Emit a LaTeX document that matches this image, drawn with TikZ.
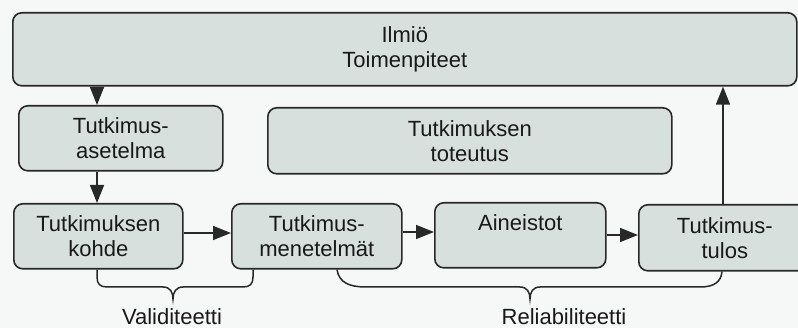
\documentclass[tikz,border=0pt]{standalone}
\usepackage{fontspec}
\setmainfont{Liberation Sans}
\usetikzlibrary{arrows.meta,calc}
\definecolor{boxfill}{RGB}{215,224,220}
\definecolor{boxline}{RGB}{40,40,40}
\definecolor{bgc}{RGB}{246,247,247}
\definecolor{txt}{RGB}{25,25,25}
\tikzset{
  box/.style={draw=boxline, fill=boxfill, line width=1.6pt, rounded corners=9pt,
    inner sep=0pt, anchor=north west, align=center, text=txt,
    font=\fontsize{22}{25}\selectfont},
  conn/.style={draw=boxline, line width=1.5pt, -{Triangle[length=18pt,width=14pt]}},
  bracepath/.style={draw=boxline, line width=1.5pt},
  lbl/.style={text=txt, font=\fontsize{22}{25}\selectfont, inner sep=0pt}
}
\begin{document}
\begin{tikzpicture}[x=1pt,y=-1pt]
\useasboundingbox (0,0) rectangle (798,328);
\fill[bgc] (0,0) rectangle (798,328);
\node[box, minimum width=784pt, minimum height=73pt] (top) at (12,12) {Ilmiö\\Toimenpiteet};
\node[box, minimum width=204pt, minimum height=65pt] (aset) at (18,105) {Tutkimus-\\asetelma};
\node[box, minimum width=404pt, minimum height=66pt] (tot) at (267,107) {Tutkimuksen\\toteutus};
\node[box, minimum width=169pt, minimum height=65pt] (kohde) at (13,203) {Tutkimuksen\\kohde};
\node[box, minimum width=170pt, minimum height=65pt] (men) at (231,203) {Tutkimus-\\menetelmät};
\node[box, minimum width=171pt, minimum height=65pt] (ain) at (434,202) {Aineistot\\\mbox{}};
\node[box, minimum width=172pt, minimum height=66pt] (tul) at (638,204) {Tutkimus-\\tulos};
\coordinate (a1) at (97,0);
\coordinate (up) at (723,0);
\draw[conn] (top.south -| a1) -- (aset.north -| a1);
\draw[conn] (aset.south -| a1) -- (kohde.north -| a1);
\draw[conn] (kohde.east |- 0,233) -- (men.west |- 0,233);
\draw[conn] (men.east |- 0,232) -- (ain.west |- 0,232);
\draw[conn] (ain.east |- 0,235) -- (tul.west |- 0,235);
\draw[conn] (tul.north -| up) -- (top.south -| up);
% Validiteetti brace
\draw[bracepath] (kohde.south -| a1) -- (97,277) .. controls (97,284) and (100,287) .. (107,287) -- (163,287)
  .. controls (170,287) and (173,292) .. (173,299) .. controls (173,292) and (176,287) .. (183,287)
  -- (243,287) .. controls (250,287) and (253,284) .. (253,277) -- (men.south -| 253,0);
% Reliabiliteetti brace
\draw[bracepath] (men.south -| 337,0) .. controls (339,283) and (350,287) .. (366,287) -- (520,287)
  .. controls (527,287) and (530,292) .. (530,299) .. controls (530,292) and (533,287) .. (540,287)
  -- (700,287) .. controls (714,287) and (721,282) .. (tul.south -| 722,0);
\node[lbl] (val) at (172,317) {Validiteetti};
\node[lbl] (rel) at (564,317) {Reliabiliteetti};
\end{tikzpicture}
\end{document}
